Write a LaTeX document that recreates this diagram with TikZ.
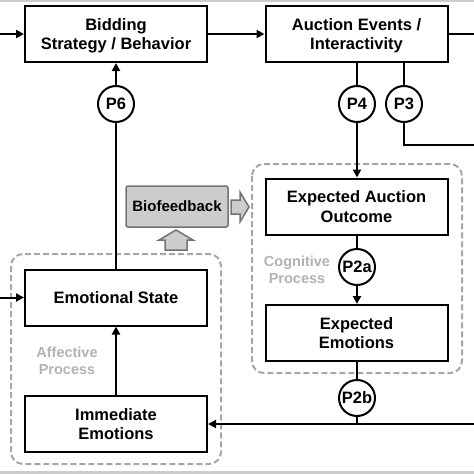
\documentclass[tikz,border=0pt]{standalone}
\usepackage{fontspec}
\setmainfont{Liberation Sans}
\usetikzlibrary{arrows.meta}
\begin{document}
\begin{tikzpicture}[x=1pt,y=-1pt,
    box/.style={draw,line width=2pt,minimum width=182pt,minimum height=56pt,inner sep=0pt,text depth=0pt,align=center,font=\bfseries\fontsize{16.5}{19.5}\selectfont},
    prop/.style={draw,circle,fill=white,line width=2pt,minimum size=36pt,inner sep=0pt,font=\bfseries\fontsize{16.5}{18}\selectfont},
    group/.style={draw=gray!70,dash pattern=on 6pt off 3pt,line width=2pt,rounded corners=12pt},
    grouplabel/.style={text=gray!60,align=center,font=\bfseries\fontsize{14.5}{17.5}\selectfont},
    link/.style={line width=2pt},
    arr/.style={link,-{Triangle[length=8pt,width=8pt]}},
    fat/.style={draw=gray!90!black,fill=gray!40,line width=1.5pt}]
    \useasboundingbox (0,0) rectangle (474,474);
    \fill[gray!40] (0,0) rectangle (474,2);
    \fill[gray!40] (0,471) rectangle (474,474);

    \draw[group] (252,164) rectangle (462,373);
    \draw[group] (11,254) rectangle (221,464);
    \node[grouplabel] (cog) at (297,270) {Cognitive\\Process};
    \node[grouplabel] (aff) at (67,361) {Affective\\Process};

    \node[box] (bid) at (116,34) {Bidding\\Strategy / Behavior};
    \node[box] (auc) at (356.5,34) {Auction Events /\\Interactivity};
    \node[box] (eao) at (356.5,206.5) {Expected Auction\\Outcome};
    \node[box] (ee) at (356.5,333) {Expected\\Emotions};
    \node[box] (es) at (116,297.5) {Emotional State};
    \node[box] (ie) at (116,424) {Immediate\\Emotions};
    \node[draw=gray!90!black,fill=gray!40,line width=1.5pt,rounded corners=2pt,minimum width=102pt,minimum height=41pt,inner sep=0pt,font=\bfseries\fontsize{15}{18}\selectfont] (bio) at (177,206.5) {Biofeedback};

    \node[prop] (p6) at (116,104) {P6};
    \node[prop] (p4) at (357,104) {P4};
    \node[prop] (p3) at (404,104) {P3};
    \node[prop] (p2a) at (357,267) {P2a};
    \node[prop] (p2b) at (357,398) {P2b};

    \coordinate (inbid) at (0,34);
    \coordinate (outauc) at (474,34);
    \coordinate (outp3) at (474,145);
    \coordinate (ines) at (0,297.5);
    \coordinate (inie) at (474,424);
    \coordinate (join) at (357,424);

    \draw[arr] (inbid) -- (bid.west);
    \draw[arr] (bid.east) -- (auc.west);
    \draw[link] (auc.east) -- (outauc);
    \draw[link] (es.north) -- (p6.south);
    \draw[arr] (p6.north) -- (bid.south);
    \draw[link] (auc.south -| p4) -- (p4.north);
    \draw[arr] (p4.south) -- (eao.north -| p4);
    \draw[link] (auc.south -| p3) -- (p3.north);
    \draw[link] (p3.south) |- (outp3);
    \draw[link] (eao.south -| p2a) -- (p2a.north);
    \draw[arr] (p2a.south) -- (ee.north -| p2a);
    \draw[link] (ee.south -| p2b) -- (p2b.north);
    \draw[link] (p2b.south) -- (join);
    \draw[arr] (inie) -- (ie.east);
    \draw[arr] (ie.north) -- (es.south);
    \draw[arr] (ines) -- (es.west);

    \draw[fat] (231,200) -- (240,200) -- (240,192) -- (249,207) -- (240,222) -- (240,214) -- (231,214) -- cycle;
    \draw[fat] (165,250) -- (165,240) -- (159,240) -- (176,230) -- (193,240) -- (187,240) -- (187,250) -- cycle;
\end{tikzpicture}
\end{document}
